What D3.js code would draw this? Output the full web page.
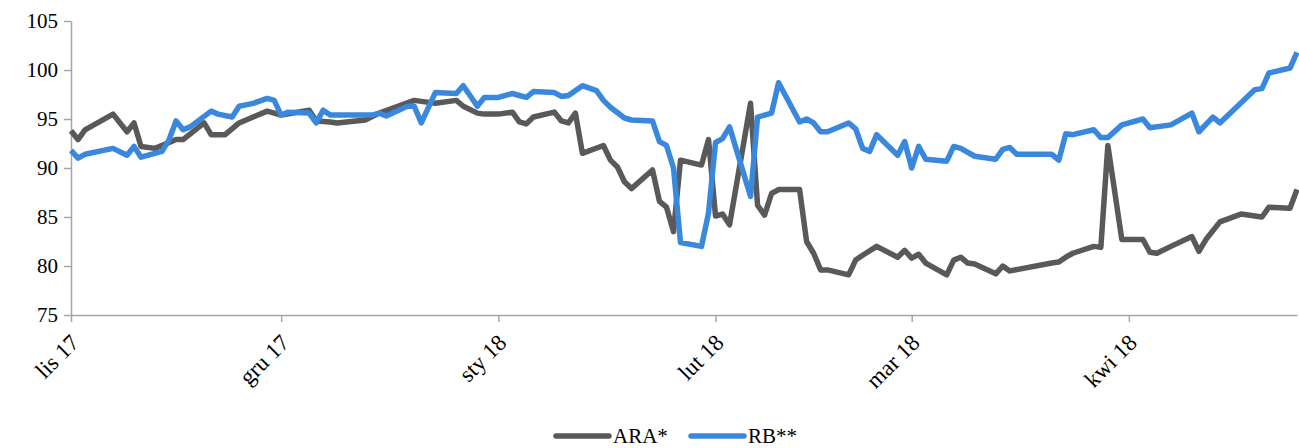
<!DOCTYPE html>
<html>
<head>
<meta charset="utf-8">
<script src="https://cdn.jsdelivr.net/npm/d3@7"></script>
<style>
  body { margin: 0; background: #fff; }
  svg { display: block; }
</style>
</head>
<body>
<svg width="1299" height="448"></svg>
<script>
// ARA* series
const araDates = ['2017-11-01','2017-11-02','2017-11-03','2017-11-07','2017-11-09','2017-11-10','2017-11-11','2017-11-13','2017-11-16','2017-11-17','2017-11-20','2017-11-21','2017-11-23','2017-11-25','2017-11-27','2017-11-29','2017-12-01','2017-12-05','2017-12-06','2017-12-08','2017-12-09','2017-12-13','2017-12-15','2017-12-20','2017-12-21','2017-12-23','2017-12-26','2017-12-27','2017-12-29','2017-12-30','2018-01-01','2018-01-03','2018-01-04','2018-01-05','2018-01-06','2018-01-09','2018-01-10','2018-01-11','2018-01-12','2018-01-13','2018-01-16','2018-01-17','2018-01-18','2018-01-19','2018-01-20','2018-01-23','2018-01-24','2018-01-25','2018-01-26','2018-01-27','2018-01-30','2018-01-31','2018-02-01','2018-02-02','2018-02-03','2018-02-06','2018-02-07','2018-02-08','2018-02-09','2018-02-10','2018-02-13','2018-02-14','2018-02-15','2018-02-16','2018-02-17','2018-02-20','2018-02-21','2018-02-22','2018-02-24','2018-02-27','2018-02-28','2018-03-01','2018-03-02','2018-03-03','2018-03-06','2018-03-07','2018-03-08','2018-03-09','2018-03-10','2018-03-13','2018-03-14','2018-03-15','2018-03-21','2018-03-22','2018-03-23','2018-03-24','2018-03-27','2018-03-28','2018-03-29','2018-03-31','2018-04-03','2018-04-04','2018-04-05','2018-04-07','2018-04-10','2018-04-11','2018-04-12','2018-04-14','2018-04-17','2018-04-20','2018-04-21','2018-04-24','2018-04-25']
const araValues = [93.8,92.9,93.9,95.5,93.7,94.6,92.2,92.0,92.9,92.9,94.6,93.4,93.4,94.6,95.2,95.8,95.4,95.9,94.8,94.7,94.6,94.9,95.6,96.9,96.8,96.6,96.9,96.3,95.6,95.5,95.5,95.7,94.7,94.5,95.2,95.7,94.8,94.6,95.6,91.5,92.3,90.8,90.1,88.6,87.9,89.8,86.6,86.0,83.5,90.8,90.3,92.9,85.1,85.3,84.2,96.6,86.2,85.2,87.4,87.8,87.8,82.5,81.3,79.6,79.6,79.1,80.6,81.1,82.0,80.9,81.6,80.8,81.2,80.3,79.1,80.6,80.9,80.3,80.2,79.2,80.0,79.5,80.3,80.4,80.9,81.3,82.0,81.9,92.3,82.7,82.7,81.4,81.3,82.0,83.0,81.5,82.7,84.5,85.3,85.0,86.0,85.9,87.8]

// RB** series
const rbDates = ['2017-11-01','2017-11-02','2017-11-03','2017-11-07','2017-11-09','2017-11-10','2017-11-11','2017-11-14','2017-11-15','2017-11-16','2017-11-17','2017-11-18','2017-11-21','2017-11-22','2017-11-24','2017-11-25','2017-11-27','2017-11-29','2017-11-30','2017-12-01','2017-12-02','2017-12-05','2017-12-06','2017-12-07','2017-12-08','2017-12-14','2017-12-15','2017-12-16','2017-12-19','2017-12-20','2017-12-21','2017-12-23','2017-12-26','2017-12-27','2017-12-29','2017-12-30','2018-01-01','2018-01-03','2018-01-04','2018-01-05','2018-01-06','2018-01-09','2018-01-10','2018-01-11','2018-01-13','2018-01-15','2018-01-16','2018-01-17','2018-01-19','2018-01-20','2018-01-23','2018-01-24','2018-01-25','2018-01-26','2018-01-27','2018-01-30','2018-01-31','2018-02-01','2018-02-02','2018-02-03','2018-02-06','2018-02-07','2018-02-09','2018-02-10','2018-02-13','2018-02-14','2018-02-15','2018-02-16','2018-02-17','2018-02-20','2018-02-21','2018-02-22','2018-02-23','2018-02-24','2018-02-27','2018-02-28','2018-03-01','2018-03-02','2018-03-03','2018-03-06','2018-03-07','2018-03-08','2018-03-10','2018-03-13','2018-03-14','2018-03-15','2018-03-16','2018-03-21','2018-03-22','2018-03-23','2018-03-24','2018-03-27','2018-03-28','2018-03-29','2018-03-31','2018-04-03','2018-04-04','2018-04-07','2018-04-10','2018-04-11','2018-04-13','2018-04-14','2018-04-19','2018-04-20','2018-04-21','2018-04-24','2018-04-25']
const rbValues = [91.8,91.0,91.4,92.0,91.3,92.2,91.1,91.7,92.9,94.8,93.9,94.2,95.8,95.5,95.2,96.3,96.6,97.1,96.9,95.4,95.7,95.6,94.6,95.9,95.4,95.4,95.6,95.3,96.3,96.3,94.6,97.7,97.6,98.4,96.3,97.2,97.2,97.6,97.4,97.2,97.8,97.7,97.3,97.4,98.4,97.9,96.9,96.2,95.1,94.9,94.8,92.7,92.3,90.0,82.4,82.0,85.4,92.6,93.0,94.2,87.1,95.2,95.6,98.7,94.7,95.0,94.6,93.7,93.7,94.6,94.0,92.0,91.7,93.4,91.3,92.7,90.0,92.2,90.9,90.7,92.2,92.0,91.2,90.9,91.9,92.1,91.4,91.4,90.8,93.5,93.4,93.9,93.1,93.1,94.4,95.0,94.1,94.4,95.6,93.7,95.2,94.6,98.0,98.1,99.7,100.2,101.8]

const monthTicks = ['2017-11-01','2017-12-01','2018-01-01','2018-02-01','2018-03-01','2018-04-01']
const monthLabels = ['lis 17','gru 17','sty 18','lut 18','mar 18','kwi 18']
const yTicks = [75, 80, 85, 90, 95, 100, 105]
const seriesNames = ['ARA*', 'RB**']
const seriesColors = ['#595959', '#3a88dd']

const parse = d3.timeParse('%Y-%m-%d')
const serif = "'Liberation Serif'"

const margin = {top: 21, right: 1, bottom: 133, left: 71},
    width = 1299 - margin.left - margin.right,
    height = 448 - margin.top - margin.bottom;

const svg = d3.select('svg')
  .append('g')
  .attr('transform', 'translate(' + margin.left + ',' + margin.top + ')');

const x = d3.scaleTime()
  .domain([parse('2017-11-01'), parse('2018-04-25')])
  .range([0, width - 1]);

const y = d3.scaleLinear()
  .domain([75, 105])
  .range([height, 0]);

// y axis
const yAxis = svg.append('g')
  .call(d3.axisLeft(y).tickValues(yTicks).tickSize(7).tickPadding(6).tickSizeOuter(0));
yAxis.selectAll('text')
  .style('font-family', serif)
  .style('font-size', '21px')
  .style('fill', '#000');
yAxis.selectAll('line, path').style('stroke', '#a6a6a6').style('stroke-width', 1.5);

// x axis
const xAxis = svg.append('g')
  .attr('transform', 'translate(0,' + height + ')')
  .call(d3.axisBottom(x)
    .tickValues(monthTicks.map(parse))
    .tickFormat((d, i) => monthLabels[i])
    .tickSize(7).tickSizeOuter(0));
xAxis.selectAll('line, path').style('stroke', '#a6a6a6').style('stroke-width', 1.5);
xAxis.selectAll('text')
  .style('font-family', serif)
  .style('font-size', '23px')
  .style('fill', '#000')
  .style('text-anchor', 'end')
  .attr('dy', null)
  .attr('y', 0)
  .attr('transform', 'translate(9,29) rotate(-45)');

// lines
const line = d3.line()
  .x(d => x(d[0]))
  .y(d => y(d[1]));

const araData = araDates.map((d, i) => [parse(d), araValues[i]]);
const rbData = rbDates.map((d, i) => [parse(d), rbValues[i]]);

[araData, rbData].forEach((data, i) => {
  svg.append('path')
    .datum(data)
    .attr('fill', 'none')
    .attr('stroke', seriesColors[i])
    .attr('stroke-width', 5.5)
    .attr('stroke-linejoin', 'round')
    .attr('d', line);
});

// legend
const legend = d3.select('svg').append('g')
  .attr('transform', 'translate(556,436)');
const legendX = [0, 135];
seriesNames.forEach((name, i) => {
  const g = legend.append('g').attr('transform', 'translate(' + legendX[i] + ',0)');
  g.append('line')
    .attr('x1', 0).attr('x2', 53)
    .attr('y1', 0).attr('y2', 0)
    .attr('stroke', seriesColors[i])
    .attr('stroke-width', 5.5)
    .attr('stroke-linecap', 'round');
  g.append('text')
    .attr('x', 57).attr('y', 7)
    .style('font-family', serif)
    .style('font-size', '21px')
    .text(name);
});
</script>
</body>
</html>
